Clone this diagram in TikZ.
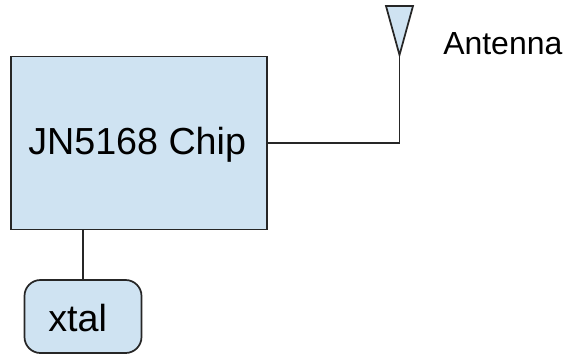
\documentclass[tikz,border=0pt]{standalone}
\usepackage{fontspec}
\setmainfont{Liberation Sans}
\usetikzlibrary{positioning}
\definecolor{chipblue}{rgb}{0.81,0.89,0.95}
\tikzset{
    partbox/.style={draw=black!85, fill=chipblue, line width=1.3pt, inner sep=0pt},
    wire/.style={draw=black!85, line width=1.3pt},
    bigtext/.style={inner sep=0pt, font=\fontsize{28.3}{34}\selectfont}
}
\begin{document}
\begin{tikzpicture}[x=0.0264cm,y=-0.0264cm]
    \useasboundingbox (0,0) rectangle (568,354);

    % Chip und Quarz
    \node[partbox, minimum width=256*0.0264cm, minimum height=173*0.0264cm] (chip) at (139,143) {};
    \node[bigtext, anchor=west] (chiplabel) at (28,145) {JN5168 Chip};
    \node[partbox, rounded corners=12pt, minimum width=117*0.0264cm, minimum height=73*0.0264cm] (xtal) at (83,316.5) {};
    \node[bigtext, anchor=west] (xtallabel) at (48,318) {xtal};

    % Antenne
    \coordinate (tipL) at (386,6);
    \coordinate (tipR) at (413,6);
    \coordinate (tip) at (399.5,55);
    \coordinate (bend) at (399.5,143);
    \filldraw[partbox] (tipL) -- (tipR) -- (tip) -- cycle;
    \node[inner sep=0pt, anchor=west, font=\fontsize{24}{29}\selectfont] (antlabel) at (443,44) {Antenna};

    % Verbindungen
    \draw[wire] (chip.east) -- (bend) -- (tip);
    \draw[wire] (chip.south -| xtal.north) -- (xtal.north);
\end{tikzpicture}
\end{document}
